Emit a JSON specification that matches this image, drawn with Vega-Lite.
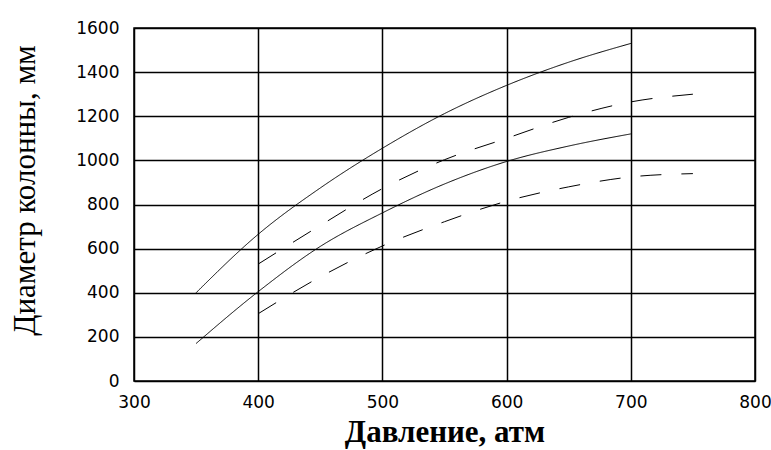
{
  "$schema": "https://vega.github.io/schema/vega-lite/v6.json",
  "width": 621,
  "height": 353,
  "autosize": {"type": "none"},
  "padding": {"left": 134, "top": 28, "right": 16, "bottom": 69},
  "background": "white",
  "config": {
    "view": {"stroke": "black", "strokeWidth": 1.5},
    "axis": {
      "gridColor": "black", "gridOpacity": 1, "gridWidth": 1.5,
      "domain": false, "ticks": false, "labelFlush": false,
      "labelFont": "DejaVu Sans", "labelFontSize": 17, "labelColor": "black", "format": "d",
      "titleFont": "Liberation Serif", "titleColor": "black"
    },
    "axisY": {"titleFontWeight": 400}
  },
  "data": {"values": [
    {"p": 350, "d": 400, "s": "a"}, {"p": 400, "d": 665, "s": "a"}, {"p": 450, "d": 875, "s": "a"}, {"p": 500, "d": 1055, "s": "a"},
    {"p": 550, "d": 1212, "s": "a"}, {"p": 600, "d": 1340, "s": "a"}, {"p": 650, "d": 1445, "s": "a"}, {"p": 700, "d": 1530, "s": "a"},
    {"p": 350, "d": 170, "s": "b"}, {"p": 400, "d": 405, "s": "b"}, {"p": 450, "d": 610, "s": "b"}, {"p": 500, "d": 762, "s": "b"},
    {"p": 550, "d": 893, "s": "b"}, {"p": 600, "d": 995, "s": "b"}, {"p": 650, "d": 1065, "s": "b"}, {"p": 700, "d": 1120, "s": "b"},
    {"p": 400, "d": 530, "s": "c"}, {"p": 450, "d": 705, "s": "c"}, {"p": 500, "d": 872, "s": "c"}, {"p": 550, "d": 1003, "s": "c"},
    {"p": 600, "d": 1100, "s": "c"}, {"p": 650, "d": 1195, "s": "c"}, {"p": 700, "d": 1265, "s": "c"}, {"p": 750, "d": 1300, "s": "c"},
    {"p": 400, "d": 305, "s": "e"}, {"p": 450, "d": 472, "s": "e"}, {"p": 500, "d": 612, "s": "e"}, {"p": 550, "d": 722, "s": "e"},
    {"p": 600, "d": 815, "s": "e"}, {"p": 650, "d": 880, "s": "e"}, {"p": 700, "d": 925, "s": "e"}, {"p": 750, "d": 940, "s": "e"}
  ]},
  "mark": {"type": "line", "interpolate": "monotone", "color": "black", "strokeWidth": 1},
  "encoding": {
    "x": {"field": "p", "type": "quantitative", "scale": {"domain": [300, 800], "nice": false},
      "axis": {"values": [300, 400, 500, 600, 700, 800], "labelPadding": 13, "labelDx": -3, "title": "Давление, атм",
        "titleFontSize": 31, "titleFontWeight": "bold", "titlePadding": 7}},
    "y": {"field": "d", "type": "quantitative", "scale": {"domain": [0, 1600], "nice": false},
      "axis": {"values": [0, 200, 400, 600, 800, 1000, 1200, 1400, 1600], "labelPadding": 15,
        "title": "Диаметр колонны, мм", "titleFontSize": 31, "titleFontWeight": 400, "titlePadding": 34, "titleY": 162}},
    "detail": {"field": "s"},
    "strokeDash": {"field": "s", "type": "nominal", "legend": null,
      "scale": {"domain": ["a", "b", "c", "e"], "range": [[1, 0], [1, 0], [21, 20], [21, 20]]}}
  }
}
